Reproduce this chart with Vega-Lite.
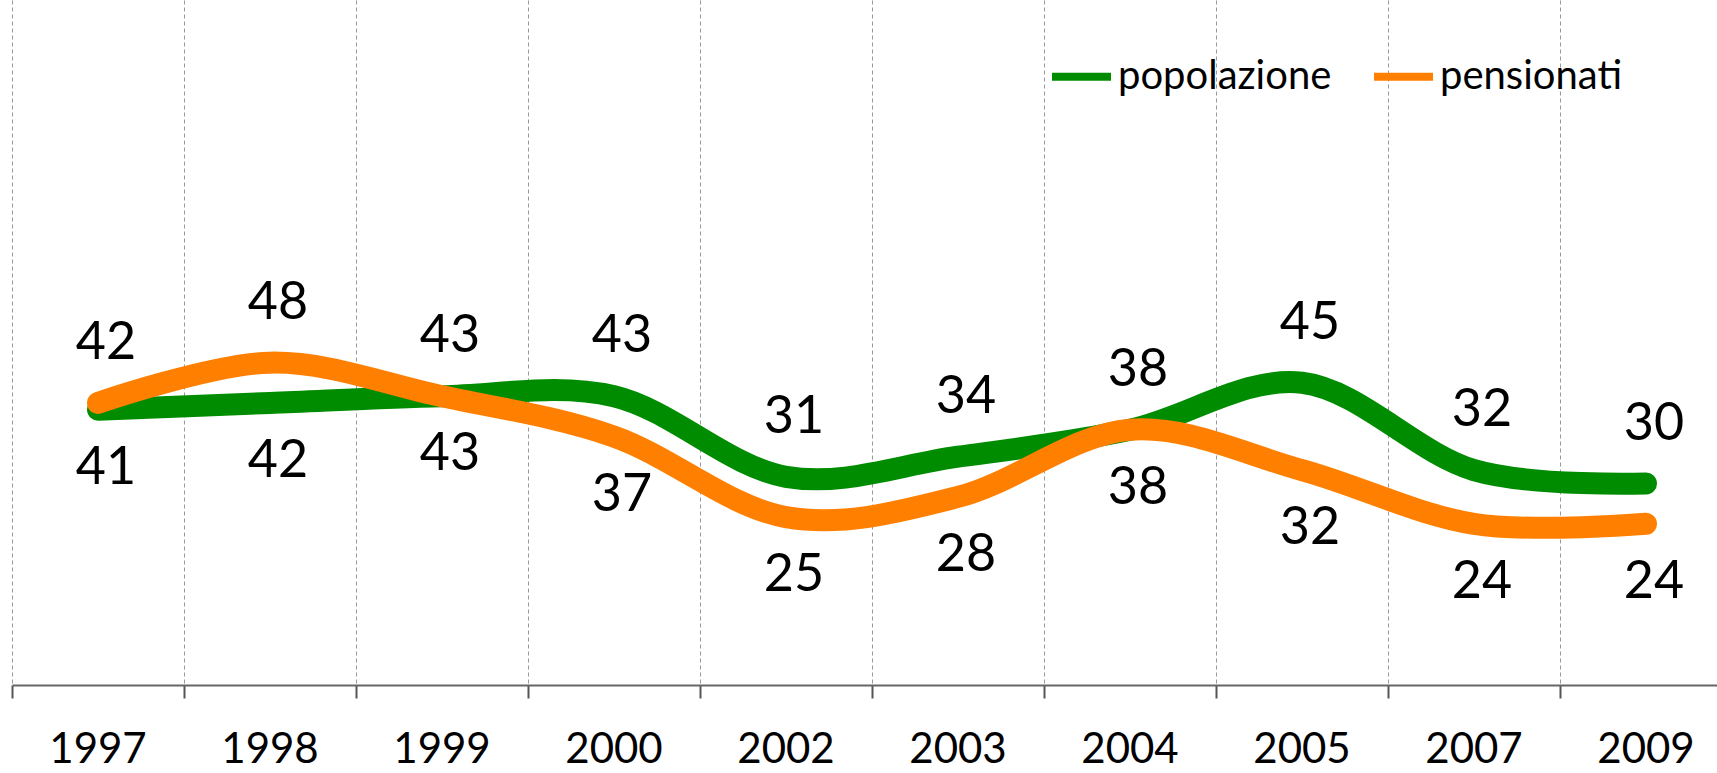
{
  "$schema": "https://vega.github.io/schema/vega-lite/v6.json",
  "autosize": "none",
  "padding": {"left": 12, "top": 0, "right": 0, "bottom": 88},
  "width": 1720,
  "height": 685,
  "background": "white",
  "config": {
    "view": {"stroke": null},
    "font": "Lato",
    "text": {"font": "Lato"}
  },
  "data": {
    "values": [
      {"anno": "1997", "serie": "popolazione", "valore": 41},
      {"anno": "1998", "serie": "popolazione", "valore": 42},
      {"anno": "1999", "serie": "popolazione", "valore": 43},
      {"anno": "2000", "serie": "popolazione", "valore": 43},
      {"anno": "2002", "serie": "popolazione", "valore": 31},
      {"anno": "2003", "serie": "popolazione", "valore": 34},
      {"anno": "2004", "serie": "popolazione", "valore": 38},
      {"anno": "2005", "serie": "popolazione", "valore": 45},
      {"anno": "2007", "serie": "popolazione", "valore": 32},
      {"anno": "2009", "serie": "popolazione", "valore": 30},
      {"anno": "1997", "serie": "pensionati", "valore": 42},
      {"anno": "1998", "serie": "pensionati", "valore": 48},
      {"anno": "1999", "serie": "pensionati", "valore": 43},
      {"anno": "2000", "serie": "pensionati", "valore": 37},
      {"anno": "2002", "serie": "pensionati", "valore": 25},
      {"anno": "2003", "serie": "pensionati", "valore": 28},
      {"anno": "2004", "serie": "pensionati", "valore": 38},
      {"anno": "2005", "serie": "pensionati", "valore": 32},
      {"anno": "2007", "serie": "pensionati", "valore": 24},
      {"anno": "2009", "serie": "pensionati", "valore": 24}
    ]
  },
  "encoding": {
    "x": {
      "field": "anno",
      "type": "ordinal",
      "sort": null,
      "scale": {"type": "band", "paddingInner": 0, "paddingOuter": 0},
      "axis": {
        "title": null,
        "bandPosition": 0,
        "labelAngle": 0,
        "labelFontSize": 42,
        "labelColor": "black",
        "labelFont": "Lato",
        "labelPadding": 31,
        "labelFlush": false,
        "labelOverlap": false,
        "labelBound": false,
        "ticks": true,
        "tickSize": 13,
        "tickWidth": 2,
        "tickColor": "#555555",
        "domainColor": "#666666",
        "domainWidth": 2,
        "grid": true,
        "gridDash": [4, 3],
        "gridColor": "#999999",
        "gridWidth": 1
      }
    },
    "y": {
      "field": "valore",
      "type": "quantitative",
      "scale": {"domain": [0, 102], "nice": false, "zero": true},
      "axis": null
    }
  },
  "layer": [
    {
      "mark": {"type": "line", "interpolate": "cardinal", "strokeWidth": 22, "strokeCap": "round", "strokeJoin": "round"},
      "encoding": {
        "color": {
          "field": "serie",
          "type": "nominal",
          "scale": {"domain": ["popolazione", "pensionati"], "range": ["#008C00", "#FF7F00"]},
          "legend": {
            "title": null,
            "orient": "none",
            "legendX": 1036,
            "legendY": 43,
            "direction": "horizontal",
            "symbolType": "stroke",
            "symbolSize": 3481,
            "symbolStrokeWidth": 8,
            "labelFontSize": 40,
            "labelFont": "Lato",
            "labelColor": "black",
            "labelOffset": 3,
            "columnPadding": 26,
            "labelLimit": 400
          }
        }
      }
    },
    {
      "transform": [{"filter": "(datum.serie == 'pensionati' && toNumber(datum.anno) < 2000) || (datum.serie == 'popolazione' && toNumber(datum.anno) >= 2000)"}],
      "mark": {"type": "text", "dy": -60, "fontSize": 52, "font": "Lato", "color": "black", "dx": 8},
      "encoding": {"text": {"field": "valore", "type": "quantitative"}}
    },
    {
      "transform": [{"filter": "(datum.serie == 'popolazione' && toNumber(datum.anno) < 2000) || (datum.serie == 'pensionati' && toNumber(datum.anno) >= 2000)"}],
      "mark": {"type": "text", "dy": 58, "fontSize": 52, "font": "Lato", "color": "black", "dx": 8},
      "encoding": {"text": {"field": "valore", "type": "quantitative"}}
    }
  ]
}
